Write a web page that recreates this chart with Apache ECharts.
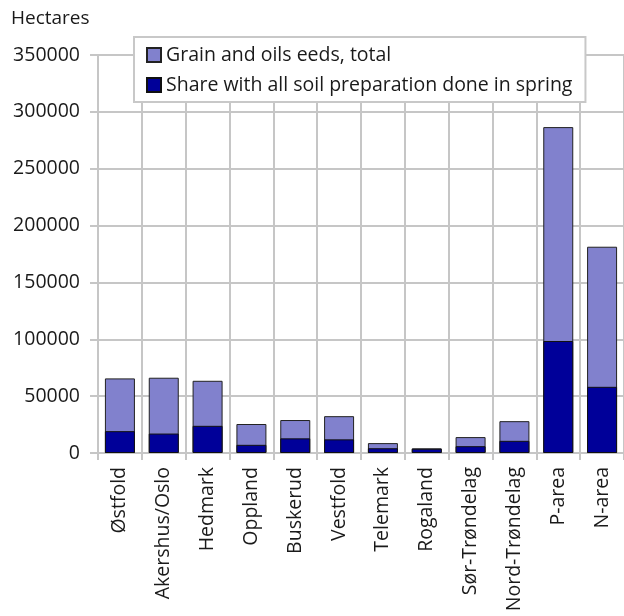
<!DOCTYPE html>
<html>
<head>
<meta charset="utf-8">
<style>
  html, body { margin: 0; padding: 0; background: #fff; }
  #chart { width: 624px; height: 616px; }
</style>
<script src="https://cdn.jsdelivr.net/npm/echarts@6/dist/echarts.min.js"></script>
</head>
<body>
<div id="chart"></div>
<script>
// Counties and regions
const categories = [
  'Østfold', 'Akershus/Oslo', 'Hedmark', 'Oppland', 'Buskerud', 'Vestfold',
  'Telemark', 'Rogaland', 'Sør-Trøndelag', 'Nord-Trøndelag', 'P-area', 'N-area'
];

// Hectares of grain and oilseeds in total
const totalArea = [65600, 66200, 63500, 25500, 29000, 32400, 8700, 4100, 14000, 28000, 286600, 181400];

// Hectares where all soil preparation was done in spring
const springShare = [19200, 17100, 23900, 7200, 12900, 12000, 4200, 3700, 6000, 10700, 98500, 58200];

const seriesNames = ['Grain and oils eeds, total', 'Share with all soil preparation done in spring'];

const yTicks = { min: 0, max: 350000, interval: 50000 };

const FONT = '"Open Sans", "Noto Sans", sans-serif';
const TEXT = '#1a1a1a';
const GRID = '#c6c6c6';

const chart = echarts.init(document.getElementById('chart'), null, { renderer: 'canvas' });

chart.setOption({
  backgroundColor: '#ffffff',
  animation: false,
  textStyle: { fontFamily: FONT, color: TEXT },
  title: {
    text: 'Hectares',
    left: 6,
    top: 4,
    textStyle: { fontFamily: FONT, fontSize: 19, fontWeight: 'normal', color: TEXT }
  },
  legend: {
    orient: 'vertical',
    left: 134,
    top: 37,
    padding: [8, 13, 7, 12],
    itemGap: 10,
    itemWidth: 14,
    itemHeight: 14,
    icon: 'rect',
    backgroundColor: '#ffffff',
    borderColor: '#c8c8c8',
    borderWidth: 2,
    textStyle: { fontFamily: FONT, fontSize: 19.5, lineHeight: 20, color: TEXT },
    data: seriesNames
  },
  grid: { left: 98, top: 55, width: 528, height: 398, containLabel: false },
  xAxis: {
    type: 'category',
    data: categories,
    boundaryGap: true,
    axisLine: { show: true, lineStyle: { color: GRID, width: 2 } },
    axisTick: { show: true, length: 7, lineStyle: { color: GRID, width: 2 } },
    splitLine: { show: true, lineStyle: { color: GRID, width: 2 } },
    axisLabel: {
      rotate: 90,
      interval: 0,
      margin: 14,
      fontFamily: FONT,
      fontSize: 19.5,
      color: TEXT
    }
  },
  yAxis: {
    type: 'value',
    min: yTicks.min,
    max: yTicks.max,
    interval: yTicks.interval,
    axisLine: { show: true, lineStyle: { color: GRID, width: 2 } },
    axisTick: { show: true, length: 8, lineStyle: { color: GRID, width: 2 } },
    splitLine: { show: true, lineStyle: { color: GRID, width: 2 } },
    axisLabel: {
      margin: 18,
      fontFamily: FONT,
      fontSize: 19.5,
      color: TEXT,
      formatter: (v) => String(v)
    }
  },
  series: [
    {
      name: seriesNames[0],
      type: 'bar',
      data: totalArea,
      barWidth: 30,
      barGap: '-100%',
      itemStyle: { color: '#8181cd', borderColor: '#222222', borderWidth: 1 }
    },
    {
      name: seriesNames[1],
      type: 'bar',
      data: springShare,
      barWidth: 30,
      barGap: '-100%',
      itemStyle: { color: '#000099', borderColor: '#111111', borderWidth: 1 }
    }
  ]
});
</script>
</body>
</html>
